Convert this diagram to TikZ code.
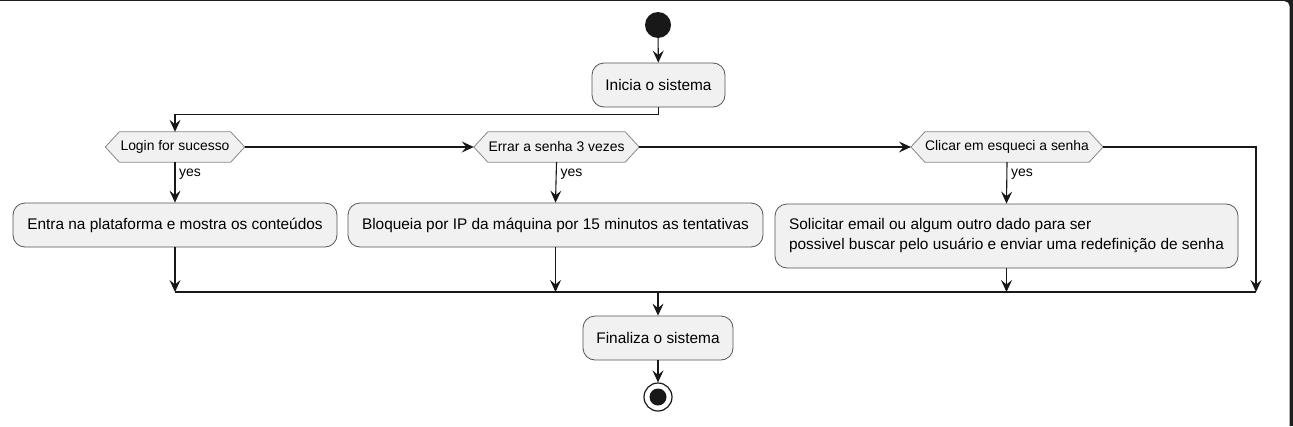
\documentclass[tikz,border=0pt]{standalone}
\usepackage{fontspec}
\setmainfont{Liberation Sans}
\usetikzlibrary{arrows.meta,backgrounds}
\definecolor{boxfill}{HTML}{F1F1F1}
\definecolor{ln}{HTML}{181818}
\definecolor{boxb}{HTML}{555555}
\definecolor{decb}{HTML}{888888}
\definecolor{framec}{HTML}{1E1E1E}
\begin{document}
\begin{tikzpicture}[x=1pt,y=-1pt,
  act/.style={draw=boxb, fill=boxfill, rounded corners=12pt, line width=0.8pt,
    font=\fontsize{15.4}{20}\selectfont, inner sep=0pt, minimum height=44pt, anchor=center},
  dec/.style={inner sep=0pt, minimum height=30pt, font=\fontsize{13.9}{16}\selectfont},
  hexa/.style={draw=decb, fill=boxfill, line width=0.8pt},
  conn/.style={draw=ln, line width=1.1pt},
  arr/.style={conn, -{Stealth[length=12pt,width=11pt,inset=4.5pt]}},
  yeslbl/.style={font=\fontsize{14}{16}\selectfont, anchor=west, inner sep=0pt}
]
\useasboundingbox (0,0) rectangle (1293,426);
% nodes
\node[circle, fill=ln, minimum size=26pt, inner sep=0pt] (start) at (658,25) {};
\node[act, minimum width=133pt] (ini) at (658.5,85) {Inicia o sistema};
\node[dec, minimum width=111pt] (d1) at (175,147) {Login for sucesso};
\node[dec, minimum width=137pt] (d2) at (556.5,147) {Errar a senha 3 vezes};
\node[dec, minimum width=159pt] (d3) at (1007,147) {Clicar em esqueci a senha};
\node[act, minimum width=324pt] (b1) at (175,225) {Entra na plataforma e mostra os conteúdos};
\node[act, minimum width=415pt] (b2) at (555.5,225) {Bloqueia por IP da máquina por 15 minutos as tentativas};
\node[act, minimum width=463pt, minimum height=64pt, align=left] (b3) at (1006.5,236)
  {Solicitar email ou algum outro dado para ser\\possivel buscar pelo usuário e enviar uma redefinição de senha};
\node[act, minimum width=150pt] (fin) at (658,338) {Finaliza o sistema};
\node[circle, draw=ln, line width=1.2pt, fill=white, minimum size=28pt, inner sep=0pt] (endc) at (658,397) {};
\fill[ln] (endc.center) circle (8.5pt);
% coordinates
\coordinate (d1l) at ([xshift=-14pt]d1.west);
\coordinate (d1r) at ([xshift=14pt]d1.east);
\coordinate (d2l) at ([xshift=-14pt]d2.west);
\coordinate (d2r) at ([xshift=14pt]d2.east);
\coordinate (d3l) at ([xshift=-14pt]d3.west);
\coordinate (d3r) at ([xshift=14pt]d3.east);
\coordinate (rc) at (1256,147);
\coordinate (my) at (0,292);
\coordinate (m1) at (b1.south |- my);
\coordinate (m2) at (b2.south |- my);
\coordinate (m3) at (b3.south |- my);
\coordinate (m4) at (rc |- my);
\coordinate (mc) at (fin.north |- my);
\begin{pgfonlayer}{background}
  \fill[framec] (0,0) rectangle (1293,426);
  \fill[white, rounded corners=5pt] (-20,1.2) rectangle (1289.5,460);
  \path[hexa] (d1l) -- (d1.north west) -- (d1.north east) -- (d1r) -- (d1.south east) -- (d1.south west) -- cycle;
  \path[hexa] (d2l) -- (d2.north west) -- (d2.north east) -- (d2r) -- (d2.south east) -- (d2.south west) -- cycle;
  \path[hexa] (d3l) -- (d3.north west) -- (d3.north east) -- (d3r) -- (d3.south east) -- (d3.south west) -- cycle;
\end{pgfonlayer}
% connectors
\draw[arr] (start) -- (ini);
\draw[arr] (ini.south) -- ++(0,7) -| (d1.north);
\draw[arr] (d1r) -- (d2l);
\draw[arr] (d2r) -- (d3l);
\draw[arr] (d3r) -- (rc) -- (m4);
\draw[arr] (d1.south) -- (b1.north);
\draw[arr] (d2.south) -- (b2.north);
\draw[arr] (d3.south) -- (b3.north);
\node[yeslbl] (y1) at ([shift={(4,12)}]d1.south) {yes};
\node[yeslbl] (y2) at ([shift={(4,12)}]d2.south) {yes};
\node[yeslbl] (y3) at ([shift={(4,12)}]d3.south) {yes};
\draw[arr] (b1.south) -- (m1);
\draw[arr] (b2.south) -- (m2);
\draw[arr] (b3.south) -- (m3);
\draw[conn] (m1) -- (m4);
\draw[arr] (mc) -- (fin.north);
\draw[arr] (fin.south) -- (endc);
\end{tikzpicture}
\end{document}
